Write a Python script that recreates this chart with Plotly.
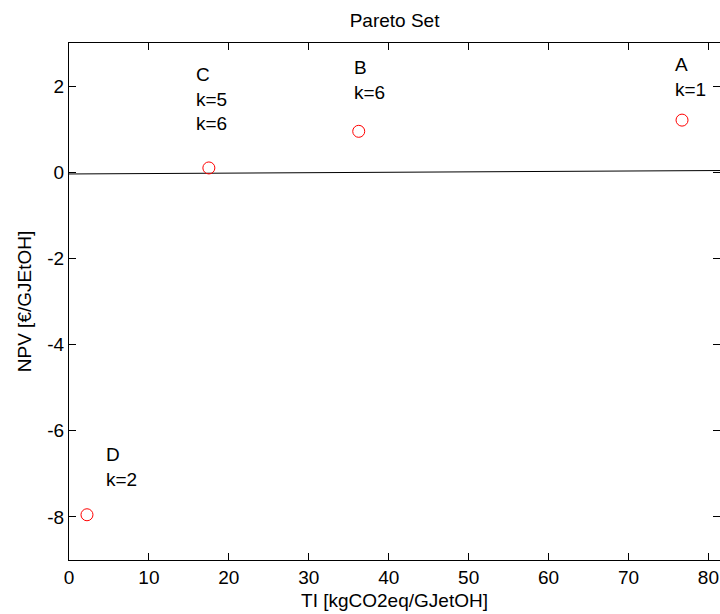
import plotly.graph_objects as go

# Pareto-optimal designs
point_names = ["A", "B", "C", "D"]
ti_values = [76.7, 36.25, 17.5, 2.25]       # TI [kgCO2eq/GJetOH]
npv_values = [1.21, 0.95, 0.10, -7.95]      # NPV [€/GJEtOH]

# Text blocks placed beside each design
label_texts = ["A<br>k=1", "B<br>k=6", "C<br>k=5<br>k=6", "D<br>k=2"]
label_x = [75.6, 35.4, 15.7, 4.35]
label_y = [2.22, 2.13, 1.71, -6.85]

# Reference line across the plot
ref_x = [0.0, 81.45]
ref_y = [-0.04, 0.04]

x_ticks = [0, 10, 20, 30, 40, 50, 60, 70, 80]
x_tick_text = ["0", "10", "20", "30", "40", "50", "60", "70", "80"]
y_ticks = [-8, -6, -4, -2, 0, 2]
y_tick_text = ["-8", "-6", "-4", "-2", "0", "2"]
x_range = [0, 81.45]
y_range = [-9, 3]

FONT = "Liberation Sans, Arial, sans-serif"

fig = go.Figure()

fig.add_trace(go.Scatter(
    x=ref_x, y=ref_y, mode="lines",
    line=dict(color="black", width=1),
    hoverinfo="skip", showlegend=False,
))

fig.add_trace(go.Scatter(
    x=ti_values, y=npv_values, mode="markers",
    text=point_names,
    marker=dict(symbol="circle-open", size=12, color="red",
                line=dict(color="red", width=1)),
    showlegend=False,
))

for txt, lx, ly in zip(label_texts, label_x, label_y):
    fig.add_annotation(
        x=lx, y=ly, text=txt, showarrow=False,
        xanchor="left", yanchor="middle", align="left",
        font=dict(family=FONT, size=19, color="black"),
    )

axis_common = dict(
    showgrid=False, zeroline=False,
    showline=True, linecolor="black", linewidth=1,
    mirror="ticks", ticks="inside", ticklen=7, tickwidth=1, tickcolor="black",
    tickfont=dict(family=FONT, size=19, color="black"),
)

fig.update_xaxes(
    range=x_range, tickmode="array", tickvals=x_ticks, ticktext=x_tick_text,
    title=dict(text="TI [kgCO2eq/GJetOH]", standoff=6,
               font=dict(family=FONT, size=19, color="black")),
    **axis_common,
)
fig.update_yaxes(
    range=y_range, tickmode="array", tickvals=y_ticks, ticktext=y_tick_text,
    title=dict(text="NPV [€/GJEtOH]", standoff=10,
               font=dict(family=FONT, size=19, color="black")),
    **axis_common,
)

fig.update_layout(
    width=720, height=614,
    margin=dict(l=69, r=0, t=43, b=54),
    paper_bgcolor="white", plot_bgcolor="white",
    title=dict(text="Pareto Set", x=0.548, xanchor="center", y=0.967, yanchor="middle",
               font=dict(family=FONT, size=19, color="black")),
    font=dict(family=FONT, size=19, color="black"),
)

fig.write_html("out.html")
